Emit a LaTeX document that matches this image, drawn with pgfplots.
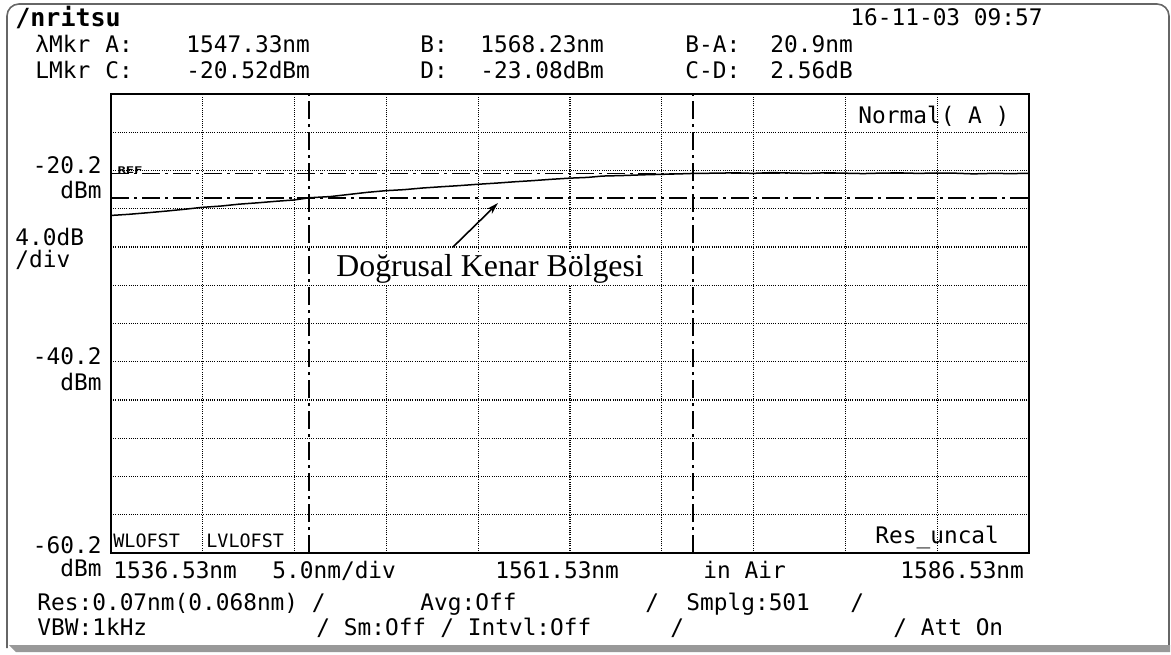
\documentclass[border=0pt]{standalone}
\usepackage{pgfplots}
\pgfplotsset{compat=1.18}
\usepackage{fontspec}
\setmainfont{Liberation Serif}
\newfontfamily\osa{DejaVu Sans Mono}
\usetikzlibrary{arrows.meta}

\begin{document}
\begin{tikzpicture}[x=0.5pt,y=-0.5pt,
  t/.style={font=\osa\fontsize{11.4}{13}\selectfont, inner sep=0pt, anchor=base west},
  tr/.style={t, anchor=base east},
  s/.style={font=\osa\fontsize{9.2}{11}\selectfont, inner sep=0pt, anchor=base west},
  mkr/.style={black, line width=0.8pt, dash pattern=on 9pt off 2.5pt on 1.5pt off 2.5pt}]
\useasboundingbox (0,0) rectangle (1171,654);

% instrument frame
\draw[black!60, line width=0.8pt, rounded corners=6pt] (7,648) -- (7,4) -- (1169,4) -- (1169,648);
\fill[black!40] (9,645) -- (1170,645) -- (1170,652) -- (16,652) -- cycle;

\begin{axis}[at={(55.5pt,-276.5pt)}, anchor=south west,
  scale only axis, width=459pt, height=229.5pt,
  xmin=1536.53, xmax=1586.53, ymin=-60.2, ymax=-12.2,
  xtick={1541.53,1546.53,1551.53,1556.53,1561.53,1566.53,1571.53,1576.53,1581.53},
  ytick={-56.2,-52.2,-48.2,-44.2,-40.2,-36.2,-32.2,-28.2,-24.2,-20.2,-16.2},
  xticklabels={}, yticklabels={}, major tick length=0pt,
  grid=major,
  major grid style={black, line width=0.6pt, dash pattern=on 0.5pt off 0.6pt},
  axis line style={black, line width=1pt}]
% marker lines A, B (wavelength) and C, D (level)
\addplot[mkr] coordinates {(1547.33,-60.2) (1547.33,-12.2)};
\addplot[mkr] coordinates {(1568.23,-60.2) (1568.23,-12.2)};
\addplot[mkr] coordinates {(1536.53,-20.52) (1586.53,-20.52)};
\addplot[mkr] coordinates {(1536.53,-23.08) (1586.53,-23.08)};
% measured trace
\addplot[black, line width=0.75pt] coordinates {
(1536.53,-24.90) (1537.5,-24.78) (1538.5,-24.62) (1539.5,-24.45) (1540.5,-24.26)
(1541.5,-24.05) (1542.5,-23.92) (1543.5,-23.72) (1544.5,-23.58) (1545.5,-23.42)
(1546.5,-23.28) (1547.33,-23.05) (1548.5,-22.92) (1549.5,-22.70) (1550.5,-22.48)
(1551.5,-22.31) (1552.5,-22.20) (1553.5,-22.03) (1554.5,-21.90) (1555.5,-21.78)
(1556.5,-21.64) (1557.5,-21.52) (1558.5,-21.38) (1559.5,-21.26) (1560.5,-21.12)
(1561.5,-21.00) (1562.5,-20.92) (1563.3,-20.78) (1564.5,-20.72) (1565.5,-20.65)
(1566.5,-20.60) (1567.5,-20.55) (1568.3,-20.50) (1569.5,-20.48) (1570.5,-20.44)
(1571.5,-20.50) (1572.5,-20.42) (1573.5,-20.46) (1574.5,-20.50) (1575.5,-20.44)
(1576.5,-20.48) (1577.5,-20.52) (1578.5,-20.47) (1579.5,-20.45) (1580.5,-20.50)
(1581.5,-20.46) (1582.5,-20.48) (1583.5,-20.55) (1584.5,-20.50) (1585.5,-20.52)
(1586.53,-20.50)};
\end{axis}

% header
\node[t, font=\osa\bfseries\fontsize{12.5}{14}\selectfont] at (15,26) {/nritsu};
\node[t] at (850,25) {16-11-03 09:57};
\node[t] at (35,52) {λMkr};  \node[t] at (105,52) {A:};
\node[t] at (186,52) {1547.33nm}; \node[t] at (420,52) {B:};
\node[t] at (480,52) {1568.23nm}; \node[t] at (685,52) {B-A:};
\node[t] at (770,52) {20.9nm};
\node[t] at (35,78) {LMkr};  \node[t] at (105,78) {C:};
\node[t] at (186,78) {-20.52dBm}; \node[t] at (420,78) {D:};
\node[t] at (480,78) {-23.08dBm}; \node[t] at (685,78) {C-D:};
\node[t] at (770,78) {2.56dB};

% level scale
\node[tr] at (102,173) {-20.2}; \node[tr] at (102,198) {dBm};
\node[t] at (15,245) {4.0dB};   \node[t] at (15,267) {/div};
\node[tr] at (102,364) {-40.2}; \node[tr] at (102,390) {dBm};
\node[tr] at (102,553) {-60.2}; \node[tr] at (102,576) {dBm};

% texts in the screen
\node[t] at (858,123) {Normal( A )};
\node[t] at (875,543) {Res\_uncal};
\node[s] at (113,547) {WLOFST};
\node[s] at (206,547) {LVLOFST};
\node[inner sep=0pt, anchor=base west, font=\osa\bfseries\fontsize{4.6}{5}\selectfont, xscale=1.5] at (117,173) {REF};

% wavelength scale
\node[t] at (113,578) {1536.53nm};
\node[t] at (272,578) {5.0nm/div};
\node[t] at (495,578) {1561.53nm};
\node[t] at (703,578) {in Air};
\node[t] at (900,578) {1586.53nm};

% settings
\node[t] at (37,610) {Res:0.07nm(0.068nm) /};
\node[t] at (420,610) {Avg:Off};
\node[t] at (645,610) {/};
\node[t] at (686,610) {Smplg:501};
\node[t] at (850,610) {/};
\node[t] at (37,635) {VBW:1kHz};
\node[t] at (316,635) {/ Sm:Off};
\node[t] at (440,635) {/ Intvl:Off};
\node[t] at (670,635) {/};
\node[t] at (893,635) {/ Att On};

% annotation
\draw[-{Stealth[length=6pt,width=3.5pt]}, line width=0.8pt] (453,247) -- (498,203);
\node[fill=white, inner sep=1pt, anchor=base west, font=\fontsize{15.9}{18}\selectfont] at (334,276) {Doğrusal Kenar Bölgesi};
\end{tikzpicture}
\end{document}
